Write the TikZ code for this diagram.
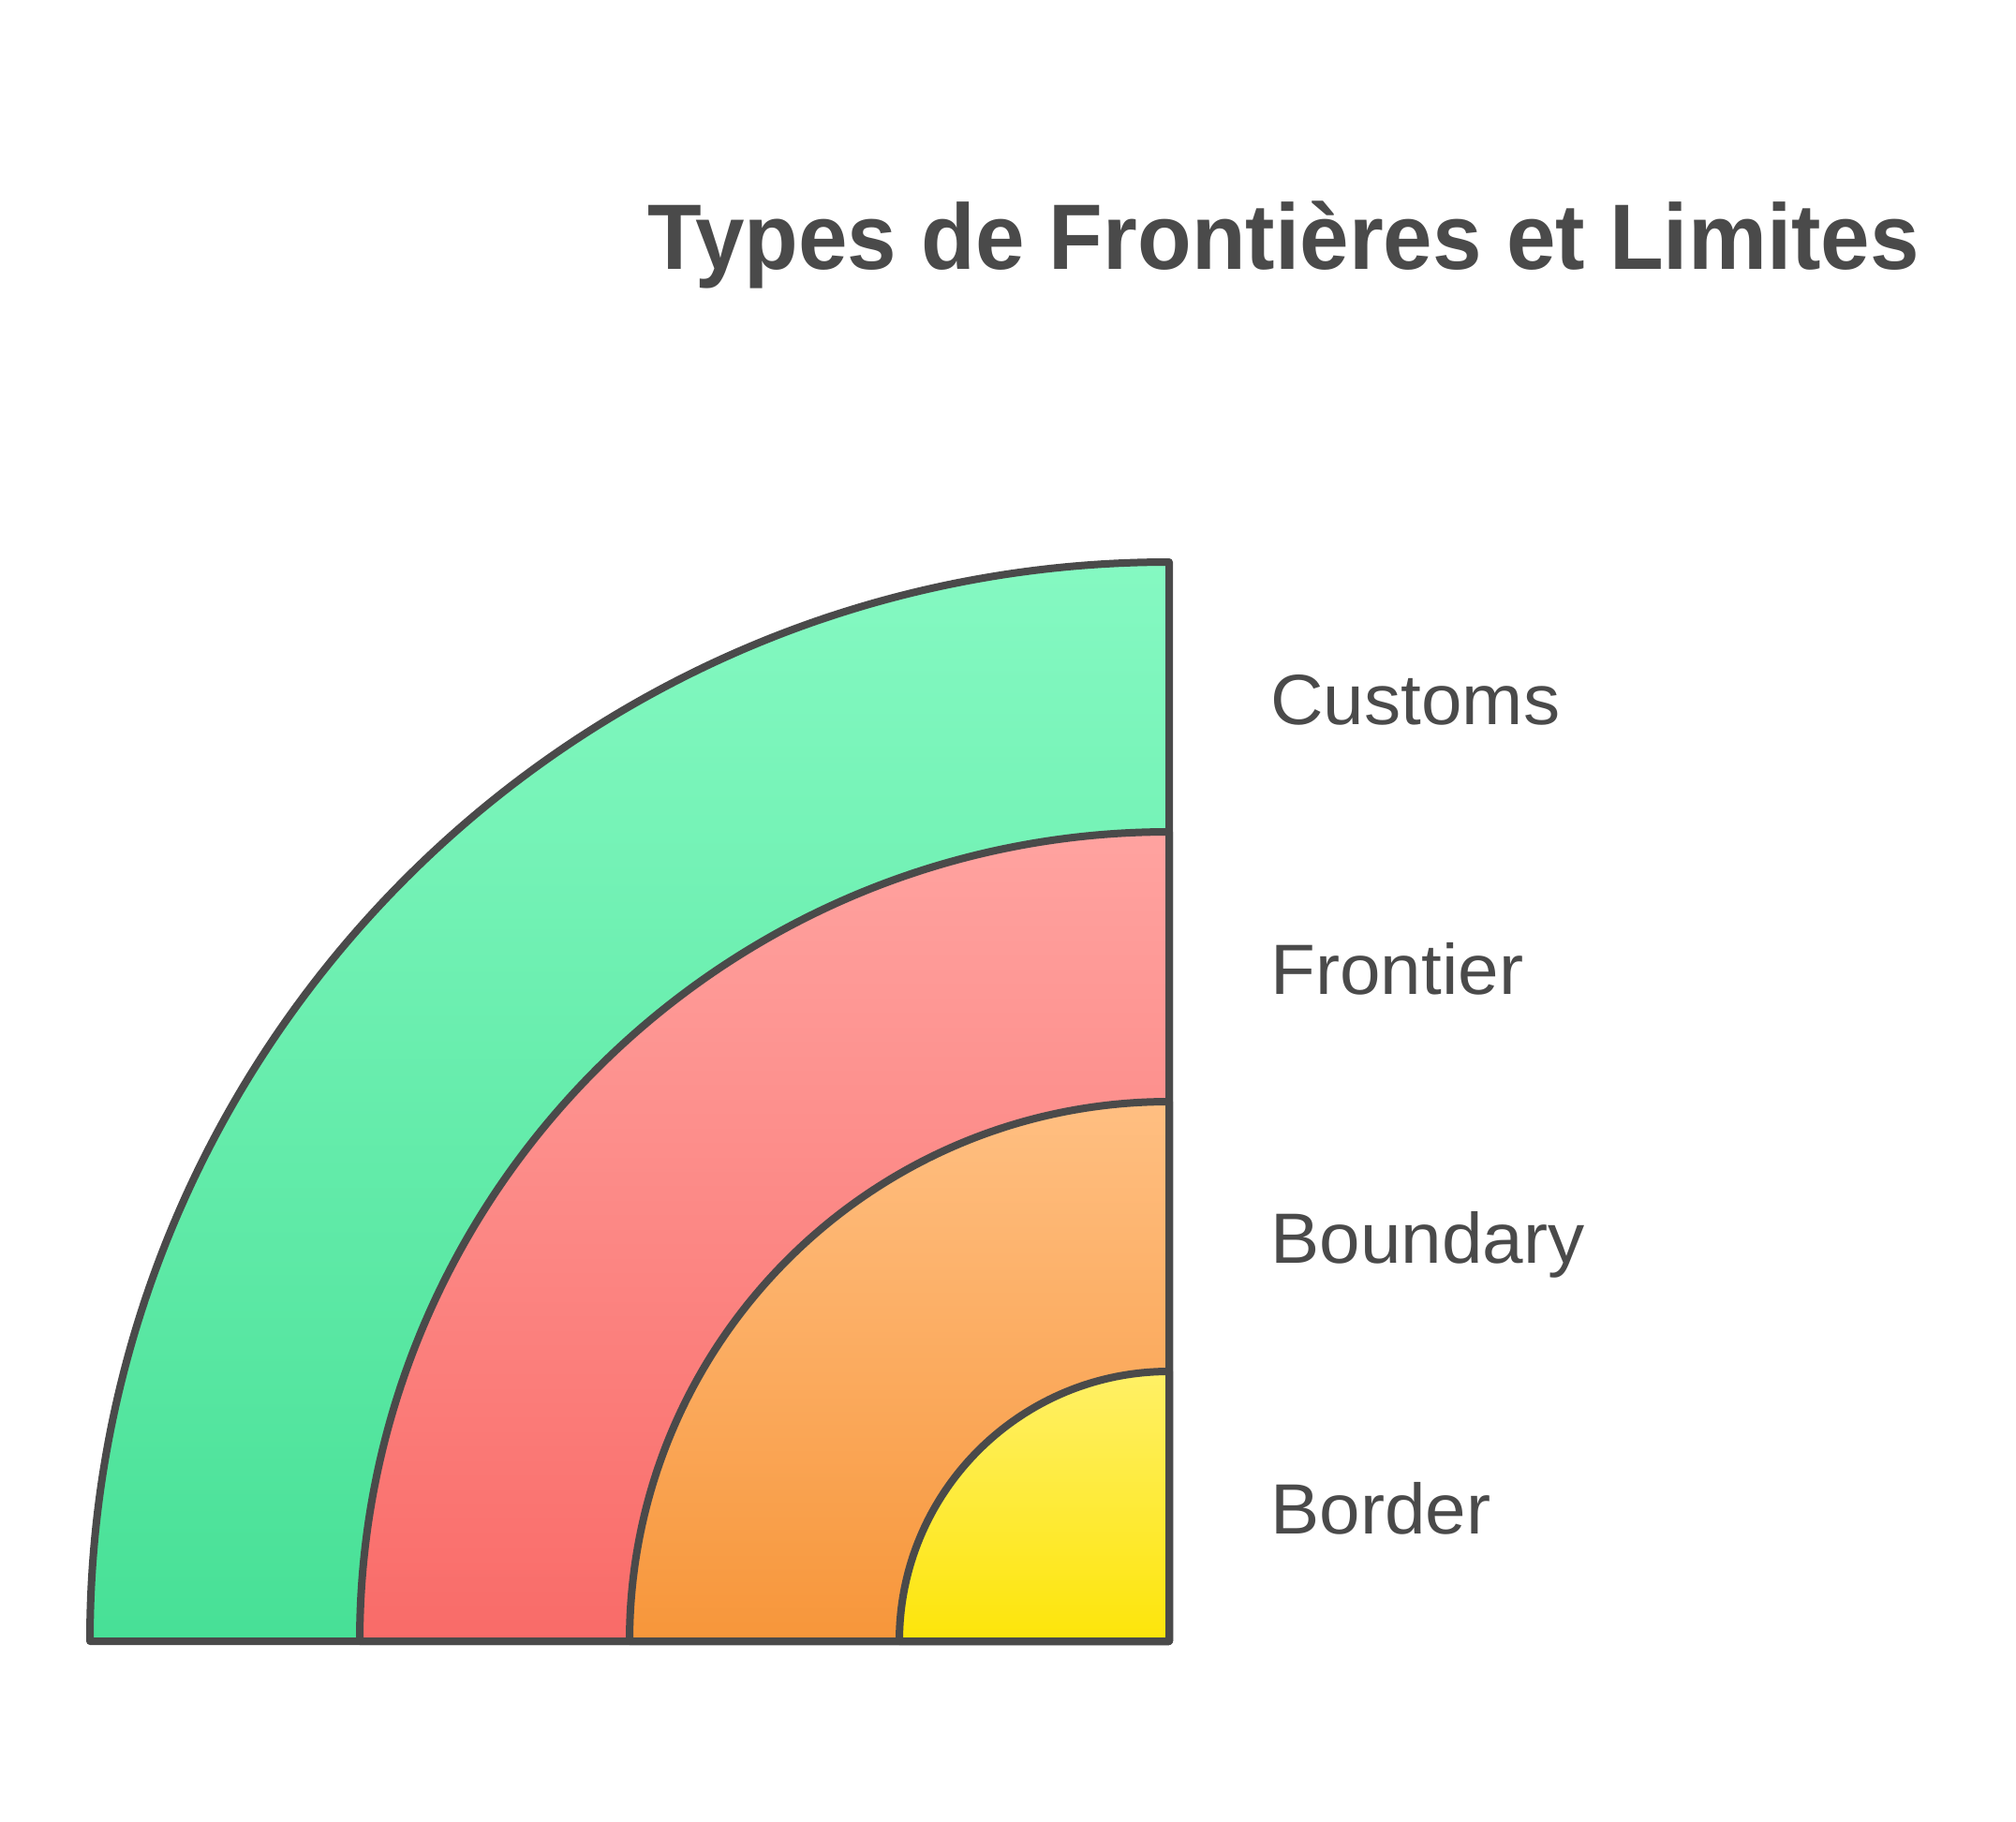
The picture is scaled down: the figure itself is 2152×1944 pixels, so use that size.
\documentclass[tikz,border=0pt]{standalone}
\usepackage{fontspec}
\usepackage{graphicx}
\setmainfont{Liberation Sans}
\newcommand{\lblbox}[1]{\scalebox{1.03}[1]{#1}}
\begin{document}
\begin{tikzpicture}[x=0.5pt,y=-0.5pt,
  sector/.style={draw=edge,line width=4pt,line join=round},
  lbl/.style={anchor=base west,inner sep=0pt,text=txt,font=\fontsize{38}{44}\selectfont},
]
\definecolor{edge}{HTML}{4A4A4A}
\definecolor{txt}{HTML}{4A4A4A}
\definecolor{gT}{HTML}{85F9C2}\definecolor{gB}{HTML}{47E096}
\definecolor{rT}{HTML}{FFA3A0}\definecolor{rB}{HTML}{F96B68}
\definecolor{oT}{HTML}{FFBF82}\definecolor{oB}{HTML}{F7963A}
\definecolor{yT}{HTML}{FFF066}\definecolor{yB}{HTML}{FDE50A}
\useasboundingbox (0,0) rectangle (2152,1944);
\coordinate (c) at (1248,1752);
\path[sector,top color=gT,bottom color=gB] (c) -- ++(-1152,0) arc[start angle=180,end angle=90,radius=576pt] -- cycle;
\path[sector,top color=rT,bottom color=rB] (c) -- ++(-864,0) arc[start angle=180,end angle=90,radius=432pt] -- cycle;
\path[sector,top color=oT,bottom color=oB] (c) -- ++(-576,0) arc[start angle=180,end angle=90,radius=288pt] -- cycle;
\path[sector,top color=yT,bottom color=yB] (c) -- ++(-288,0) arc[start angle=180,end angle=90,radius=144pt] -- cycle;
\node[anchor=base west,inner sep=0pt,text=txt,font=\fontsize{49.6}{58}\selectfont\bfseries] (title) at (691,287) {\scalebox{0.952}[1]{Types de Frontières et Limites}};
\node[lbl] (customs) at (1356,773) {\lblbox{Customs}};
\node[lbl] (frontier) at (1356,1061) {\lblbox{Frontier}};
\node[lbl] (boundary) at (1356,1348) {\lblbox{Boundary}};
\node[lbl] (border) at (1356,1637) {\lblbox{Border}};
\end{tikzpicture}
\end{document}
